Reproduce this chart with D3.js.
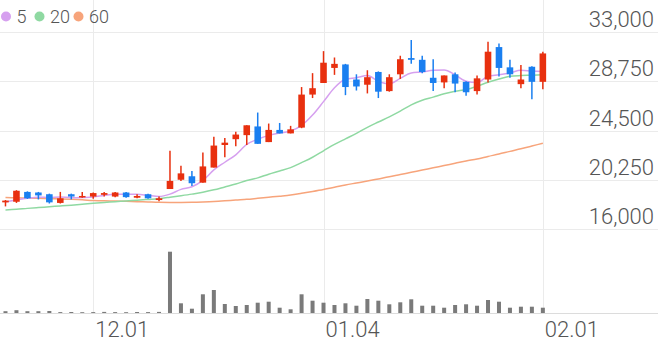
<!DOCTYPE html>
<html>
<head>
<meta charset="utf-8">
<script src="https://cdn.jsdelivr.net/npm/d3@7"></script>
<style>
  html, body { margin: 0; padding: 0; background: #fff; }
  svg { display: block; font-family: Roboto, "Noto Sans", sans-serif; }
</style>
</head>
<body>
<script>
/* jshint esversion: 6 */
(function () {
  'use strict';

  // trading days shown on the chart
  const dates = [
    '11.21', '11.22', '11.23', '11.24', '11.27', '11.28', '11.29', '11.30',
    '12.01', '12.04', '12.05', '12.06', '12.07', '12.08', '12.11', '12.12',
    '12.13', '12.14', '12.15', '12.18', '12.19', '12.20', '12.21', '12.22',
    '12.26', '12.27', '12.28', '01.02', '01.03', '01.04', '01.05', '01.08',
    '01.09', '01.10', '01.11', '01.12', '01.15', '01.16', '01.17', '01.18',
    '01.19', '01.22', '01.23', '01.24', '01.25', '01.26', '01.29', '01.30',
    '01.31', '02.01'
  ];

  // candle values
  const open = [
    18300, 18350, 19200, 19150, 19000, 18250, 19000, 18750, 18800, 18950,
    18800, 19150, 18700, 19000, 18500, 19450, 20250, 20550, 20000, 21300,
    23250, 23750, 24100, 24850, 23500, 24550, 24250, 24750, 27600, 28600,
    29900, 30200, 28900, 28450, 29550, 27900, 29350, 30750, 30600, 29050,
    28650, 29350, 28700, 27900, 28900, 31700, 29950, 28500, 30000, 28700
  ];
  const high = [
    18500, 19350, 19250, 19200, 19050, 19200, 19050, 19200, 19150, 19200,
    19200, 19200, 19000, 19050, 18800, 22750, 21450, 21000, 22600, 23950,
    23850, 24400, 24950, 26050, 25100, 25150, 24900, 28250, 29450, 31350,
    30800, 30250, 29350, 29700, 29600, 29350, 30950, 32300, 30950, 30650,
    29250, 29500, 28750, 29250, 32150, 32000, 30600, 30150, 30050, 31300
  ];
  const low = [
    17950, 18250, 18600, 18550, 18200, 18200, 18550, 18700, 18600, 18800,
    18750, 18700, 18650, 18600, 18400, 19450, 20150, 19700, 20000, 21300,
    22200, 23150, 23250, 23350, 23500, 24250, 24250, 24700, 27300, 28600,
    29300, 27550, 27950, 27700, 27300, 27850, 28950, 30250, 29450, 27900,
    28150, 27800, 27500, 27600, 28650, 29150, 29050, 28150, 27200, 28050
  ];
  const close = [
    18450, 19300, 18650, 18900, 18300, 18650, 18800, 18850, 19100, 19100,
    19150, 18750, 18850, 18650, 18650, 20150, 20800, 19950, 21400, 23200,
    23450, 24150, 24950, 23350, 24550, 24250, 24600, 27600, 28150, 30350,
    30250, 28250, 28300, 29100, 27850, 29100, 30650, 30600, 29550, 28600,
    29250, 28550, 27800, 29000, 31300, 29900, 29350, 28900, 28700, 31150
  ];
  const volume = [
    90000, 140000, 90000, 90000, 100000, 45000, 50000, 40000, 45000, 55000,
    45000, 40000, 50000, 45000, 55000, 3065000, 485000, 215000, 935000, 1150000,
    450000, 350000, 400000, 515000, 565000, 265000, 185000, 935000, 615000, 515000,
    400000, 485000, 365000, 700000, 615000, 435000, 535000, 685000, 365000, 365000,
    265000, 400000, 435000, 365000, 650000, 565000, 265000, 315000, 315000, 265000
  ];

  // moving averages as drawn
  const ma5 = [
    18330, 18500, 18650, 18750, 18720, 18760, 18700, 18720, 18760, 18900,
    19000, 18990, 18990, 18900, 18810, 19010, 19420, 19640, 20190, 21100,
    21760, 22400, 23300, 23750, 24080, 24280, 24450, 24940, 25830, 26990,
    28190, 28920, 29060, 29250, 28750, 28520, 29000, 29460, 29550, 29700,
    29730, 29310, 28750, 28640, 29180, 29310, 29470, 29690, 29630, 29600
  ];
  const ma20 = [
    17640, 17700, 17780, 17850, 17920, 17990, 18060, 18140, 18220, 18290,
    18350, 18420, 18480, 18550, 18620, 18740, 18870, 19010, 19170, 19380,
    19630, 19880, 20190, 20410, 20730, 21010, 21300, 21730, 22190, 22750,
    23300, 23780, 24250, 24770, 25230, 25680, 26170, 26710, 27110, 27380,
    27670, 27890, 28040, 28320, 28660, 28940, 29180, 29240, 29270, 29310
  ];
  const ma60 = [
    18720, 18690, 18680, 18650, 18620, 18590, 18560, 18520, 18460, 18430,
    18420, 18390, 18360, 18330, 18300, 18290, 18290, 18300, 18330, 18370,
    18430, 18500, 18560, 18650, 18740, 18830, 18930, 19080, 19240, 19410,
    19600, 19800, 19970, 20140, 20320, 20500, 20700, 20890, 21090, 21280,
    21480, 21670, 21870, 22040, 22260, 22470, 22700, 22920, 23160, 23400
  ];

  const priceTicks = [16000, 20250, 24500, 28750, 33000];
  const dateTicks = ['12.01', '01.04', '02.01'];
  const maNames = ['5', '20', '60'];

  const width = 658;
  const height = 342;
  const slots = 60; // chart leaves room for 10 empty days on the right
  const upColor = '#e8300f';
  const downColor = '#1a7ff0';
  const maColors = ['#d6a0ef', '#8fd9a2', '#f7a47b'];

  let svgContainer = '';

  window.onload = function () {
    svgContainer = d3.select('body')
      .append('svg')
      .attr('width', width)
      .attr('height', height);

    svgContainer.append('rect')
      .attr('width', width)
      .attr('height', height)
      .attr('fill', '#fff');

    let scales = makeScales();
    drawGrid(scales);
    drawVolume(scales);
    drawAverages(scales);
    drawCandles(scales);
    drawLabels(scales);
    drawLegend();
  };

  // x by day index, price and volume on their own y ranges
  function makeScales() {
    let x = d3.scaleLinear()
      .domain([-0.5, slots - 0.5])
      .range([0, width]);

    let y = d3.scaleLinear()
      .domain([16000, 33000])
      .range([229, 32]);

    let v = d3.scaleLinear()
      .domain([0, 3400000])
      .range([313, 245]);

    return { x: x, y: y, v: v, step: width / slots };
  }

  // grid lines and bottom axis line
  function drawGrid(s) {
    svgContainer.selectAll('.hgrid')
      .data(priceTicks)
      .enter()
      .append('line')
        .attr('x1', 0)
        .attr('x2', width)
        .attr('y1', d => Math.round(s.y(d)) + 0.5)
        .attr('y2', d => Math.round(s.y(d)) + 0.5)
        .attr('stroke', '#ebebeb')
        .attr('stroke-width', 1);

    svgContainer.selectAll('.vgrid')
      .data(dateTicks)
      .enter()
      .append('line')
        .attr('x1', d => Math.round(s.x(dates.indexOf(d))) + 0.5)
        .attr('x2', d => Math.round(s.x(dates.indexOf(d))) + 0.5)
        .attr('y1', 0)
        .attr('y2', 313)
        .attr('stroke', '#ebebeb')
        .attr('stroke-width', 1);

    svgContainer.append('line')
      .attr('x1', 0)
      .attr('x2', width)
      .attr('y1', 313.5)
      .attr('y2', 313.5)
      .attr('stroke', '#dcdcdc')
      .attr('stroke-width', 1);
  }

  // volume bars
  function drawVolume(s) {
    svgContainer.selectAll('.vol')
      .data(volume)
      .enter()
      .append('rect')
        .attr('x', (d, i) => s.x(i) - 2)
        .attr('y', d => s.v(d))
        .attr('width', 4)
        .attr('height', d => s.v(0) - s.v(d))
        .attr('fill', '#7a7a7a');
  }

  // moving average lines
  function drawAverages(s) {
    let line = d3.line()
      .x((d, i) => s.x(i))
      .y(d => s.y(d))
      .curve(d3.curveMonotoneX);

    [ma60, ma20, ma5].forEach((series, k) => {
      svgContainer.append('path')
        .datum(series)
        .attr('d', line)
        .attr('fill', 'none')
        .attr('stroke', maColors[2 - k])
        .attr('stroke-width', 1.5);
    });
  }

  // wicks and bodies
  function drawCandles(s) {
    let idx = d3.range(dates.length);
    let color = i => (close[i] >= open[i] ? upColor : downColor);
    let bodyW = s.step * 0.6;

    svgContainer.selectAll('.wick')
      .data(idx)
      .enter()
      .append('line')
        .attr('x1', i => s.x(i))
        .attr('x2', i => s.x(i))
        .attr('y1', i => s.y(high[i]))
        .attr('y2', i => s.y(low[i]))
        .attr('stroke', color)
        .attr('stroke-width', 1.5);

    svgContainer.selectAll('.body')
      .data(idx)
      .enter()
      .append('rect')
        .attr('x', i => s.x(i) - bodyW / 2)
        .attr('y', i => s.y(Math.max(open[i], close[i])))
        .attr('width', bodyW)
        .attr('height', i => Math.max(1.5, Math.abs(s.y(open[i]) - s.y(close[i]))))
        .attr('fill', color);
  }

  // price labels on the right and dates below
  function drawLabels(s) {
    svgContainer.selectAll('.ptick')
      .data(priceTicks)
      .enter()
      .append('text')
        .attr('x', 654)
        .attr('y', d => s.y(d) - 5)
        .attr('text-anchor', 'end')
        .style('font-size', '22px')
        .style('font-weight', 300)
        .style('fill', '#555')
        .text(d => d3.format(',')(d));

    svgContainer.selectAll('.dtick')
      .data(dateTicks)
      .enter()
      .append('text')
        .attr('x', d => s.x(dates.indexOf(d)) + 2)
        .attr('y', 337)
        .style('font-size', '22px')
        .style('font-weight', 300)
        .style('fill', '#555')
        .text(d => d);
  }

  // legend for the averages
  function drawLegend() {
    let pos = [6, 39.5, 78.5];

    svgContainer.selectAll('.ldot')
      .data(maNames)
      .enter()
      .append('circle')
        .attr('cx', (d, i) => pos[i])
        .attr('cy', 16.5)
        .attr('r', 5)
        .attr('fill', (d, i) => maColors[i]);

    svgContainer.selectAll('.ltext')
      .data(maNames)
      .enter()
      .append('text')
        .attr('x', (d, i) => pos[i] + 10.5)
        .attr('y', 23)
        .style('font-size', '18px')
        .style('font-weight', 300)
        .style('fill', '#555')
        .text(d => d);
  }

})();
</script>
</body>
</html>
